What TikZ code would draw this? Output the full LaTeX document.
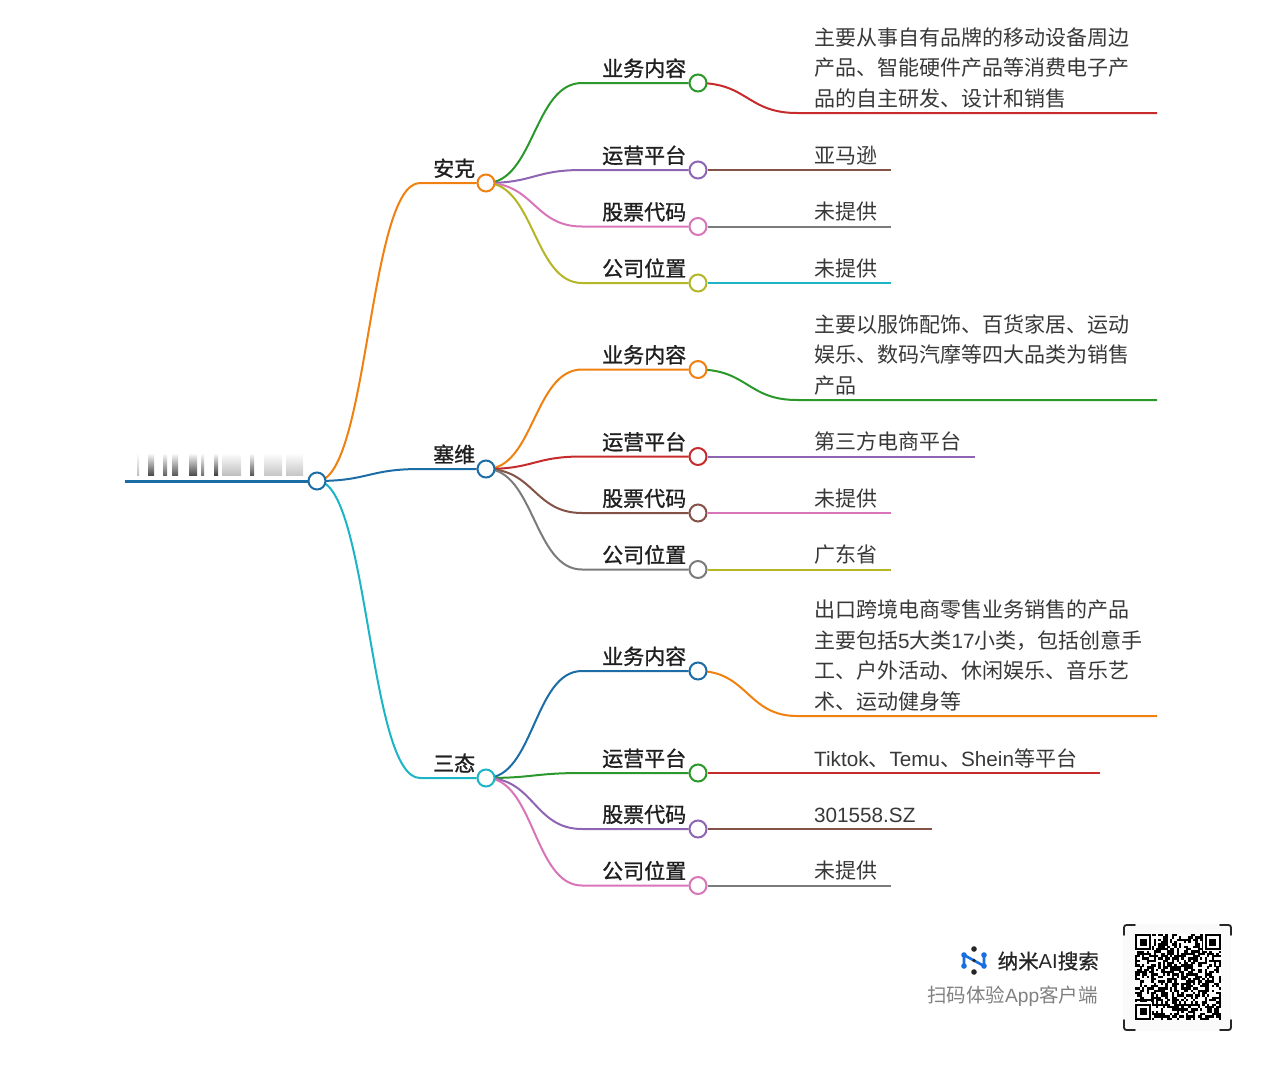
\documentclass[tikz,border=0pt]{standalone}
\usepackage{fontspec}
\setmainfont{Noto Sans CJK SC}
\newfontfamily\lat[Scale=0.985]{Liberation Sans}
\usetikzlibrary{calc,backgrounds}
\definecolor{cb}{HTML}{1C6DA6}\definecolor{co}{HTML}{F0800F}\definecolor{cg}{HTML}{2A982A}
\definecolor{cr}{HTML}{C62A2B}\definecolor{cp}{HTML}{8E64B3}\definecolor{cn}{HTML}{845247}
\definecolor{ck}{HTML}{D875B8}\definecolor{cy}{HTML}{7B7B7B}\definecolor{cl}{HTML}{B5B625}
\definecolor{cc}{HTML}{1CB5C6}\definecolor{logob}{HTML}{1A6FE0}
\tikzset{
  dot/.style={circle,draw=#1,fill=white,line width=2pt,minimum size=17pt,inner sep=0pt},
  edge/.style={line width=2pt,draw=#1},
  rootedge/.style={line width=3pt,draw=#1},
  lab/.style={anchor=south west,inner sep=0pt,align=left,text=black!88,
     font=\fontsize{21}{30.5}\selectfont\addfontfeatures{FakeBold=1.1},
     execute at end node={\vrule depth 6.5pt width 0pt}},
  leaf/.style={anchor=south west,inner sep=0pt,align=left,text=black!78,
     font=\fontsize{21}{30.5}\selectfont,
     execute at end node={\vrule depth 6.5pt width 0pt}},
  bar/.style={top color=white,bottom color=black!#1,draw=none},
  qrmark/.style={line width=1.8pt,draw=black!85,line cap=round,rounded corners=2.5pt},
  logoline/.style={line width=2.6pt,draw=logob}
}
\newcommand\curveedge[4]{\draw[edge=#1] let \p1=(#2.center), \p2=(#3) in
  (\p1) .. controls ({0.5*(\x1+\x2)},\y1) and ({0.5*(\x1+\x2)},\y2) .. (\p2) -- (#4);}
\begin{document}
\begin{tikzpicture}[x=1pt,y=-1pt]
\path[use as bounding box] (0,0) rectangle (1280,1082);
% blurred title
\foreach \a/\b/\d in {137/139/25,148/154/70,163/167/60,172/178/65,189/197/70,201/204/55,214/218/75,222/241/25,250/254/65,264/282/22,286/303/22}
  \shade[bar=\d] (\a,453) rectangle (\b,475);
% hubs
\node[dot=cb] (root) at (317,481) {};
\node[dot=co] (ak) at (486,183) {};
\node[dot=cb] (sw) at (486,469) {};
\node[dot=cc] (st) at (486,778) {};
\node[dot=cg] (a1) at (698,83) {};
\node[dot=cp] (a2) at (698,170) {};
\node[dot=ck] (a3) at (698,226.5) {};
\node[dot=cl] (a4) at (698,283) {};
\node[dot=co] (b1) at (698,369.5) {};
\node[dot=cr] (b2) at (698,456.5) {};
\node[dot=cn] (b3) at (698,513) {};
\node[dot=cy] (b4) at (698,569.5) {};
\node[dot=cb] (c1) at (698,671) {};
\node[dot=cg] (c2) at (698,773) {};
\node[dot=cp] (c3) at (698,829) {};
\node[dot=ck] (c4) at (698,885.5) {};
% free ends and knees
\coordinate (rs) at (125,481);
\coordinate (kak) at (420,183);\coordinate (ksw) at (420,469);\coordinate (kst) at (420,778);
\coordinate (ka1) at (582,83);\coordinate (ka2) at (582,170);\coordinate (ka3) at (582,226.5);\coordinate (ka4) at (582,283);
\coordinate (kb1) at (582,369.5);\coordinate (kb2) at (582,456.5);\coordinate (kb3) at (582,513);\coordinate (kb4) at (582,569.5);
\coordinate (kc1) at (582,671);\coordinate (kc2) at (582,773);\coordinate (kc3) at (582,829);\coordinate (kc4) at (582,885.5);
\coordinate (la1k) at (797,113);\coordinate (la1) at (1157,113);
\coordinate (la2) at (891,170);\coordinate (la3) at (891,226.5);\coordinate (la4) at (891,283);
\coordinate (lb1k) at (797,400);\coordinate (lb1) at (1157,400);
\coordinate (lb2) at (975,456.5);\coordinate (lb3) at (891,513);\coordinate (lb4) at (891,569.5);
\coordinate (lc1k) at (797,716);\coordinate (lc1) at (1157,716);
\coordinate (lc2) at (1100,773);\coordinate (lc3) at (932,829);\coordinate (lc4) at (891,885.5);
\begin{scope}[on background layer]
\draw[rootedge=cb] (rs) -- (root.west);
\curveedge{co}{root}{kak}{ak.west}
\curveedge{cc}{root}{kst}{st.west}
\curveedge{cb}{root}{ksw}{sw.west}
\curveedge{cg}{ak}{ka1}{a1.west}
\curveedge{cp}{ak}{ka2}{a2.west}
\curveedge{ck}{ak}{ka3}{a3.west}
\curveedge{cl}{ak}{ka4}{a4.west}
\curveedge{co}{sw}{kb1}{b1.west}
\curveedge{cr}{sw}{kb2}{b2.west}
\curveedge{cn}{sw}{kb3}{b3.west}
\curveedge{cy}{sw}{kb4}{b4.west}
\curveedge{cb}{st}{kc1}{c1.west}
\curveedge{cg}{st}{kc2}{c2.west}
\curveedge{cp}{st}{kc3}{c3.west}
\curveedge{ck}{st}{kc4}{c4.west}
\curveedge{cr}{a1}{la1k}{la1}
\draw[edge=cn] (a2.east) -- (la2);
\draw[edge=cy] (a3.east) -- (la3);
\draw[edge=cc] (a4.east) -- (la4);
\curveedge{cg}{b1}{lb1k}{lb1}
\draw[edge=cp] (b2.east) -- (lb2);
\draw[edge=ck] (b3.east) -- (lb3);
\draw[edge=cl] (b4.east) -- (lb4);
\curveedge{co}{c1}{lc1k}{lc1}
\draw[edge=cr] (c2.east) -- (lc2);
\draw[edge=cn] (c3.east) -- (lc3);
\draw[edge=cy] (c4.east) -- (lc4);
\end{scope}
% labels
\node[lab] (tak) at (433,183) {安克};
\node[lab] (tsw) at (433,469) {塞维};
\node[lab] (tst) at (433,778) {三态};
\node[lab] (ta1) at (602,83) {业务内容};
\node[lab] (ta2) at (602,170) {运营平台};
\node[lab] (ta3) at (602,226.5) {股票代码};
\node[lab] (ta4) at (602,283) {公司位置};
\node[lab] (tb1) at (602,369.5) {业务内容};
\node[lab] (tb2) at (602,456.5) {运营平台};
\node[lab] (tb3) at (602,513) {股票代码};
\node[lab] (tb4) at (602,569.5) {公司位置};
\node[lab] (tc1) at (602,671) {业务内容};
\node[lab] (tc2) at (602,773) {运营平台};
\node[lab] (tc3) at (602,829) {股票代码};
\node[lab] (tc4) at (602,885.5) {公司位置};
% leaves
\node[leaf] (va1) at (814,113) {主要从事自有品牌的移动设备周边\\产品、智能硬件产品等消费电子产\\品的自主研发、设计和销售};
\node[leaf] (va2) at (814,170) {亚马逊};
\node[leaf] (va3) at (814,226.5) {未提供};
\node[leaf] (va4) at (814,283) {未提供};
\node[leaf] (vb1) at (814,400) {主要以服饰配饰、百货家居、运动\\娱乐、数码汽摩等四大品类为销售\\产品};
\node[leaf] (vb2) at (814,456.5) {第三方电商平台};
\node[leaf] (vb3) at (814,513) {未提供};
\node[leaf] (vb4) at (814,569.5) {广东省};
\node[leaf] (vc1) at (814,716) {出口跨境电商零售业务销售的产品\\主要包括{\lat 5}大类{\lat 17}小类，包括创意手\\工、户外活动、休闲娱乐、音乐艺\\术、运动健身等};
\node[leaf] (vc2) at (814,773) {{\lat Tiktok}、{\lat Temu}、{\lat Shein}等平台};
\node[leaf] (vc3) at (814,829) {{\lat 301558.SZ}};
\node[leaf] (vc4) at (814,885.5) {未提供};
% logo
\coordinate (lgt) at (974,949);\coordinate (lgb) at (974,972);
\coordinate (lglt) at (964,955);\coordinate (lgrt) at (984,955);
\coordinate (lglb) at (964,966);\coordinate (lgrb) at (984,966);
\draw[logoline] (lglb) -- (lglt) -- (lgrb) -- (lgrt);
\fill[logob] (lglt) circle (2.8) (lgrt) circle (2.8) (lglb) circle (2.8) (lgrb) circle (2.8);
\fill[black!85] (lgt) circle (2.8) (lgb) circle (2.8) (974,960.5) circle (1.8);
\node[anchor=east,inner sep=0pt,text=black!85,font=\fontsize{20.5}{24}\selectfont\addfontfeatures{FakeBold=0.8}] (brand) at (1099,961) {纳米{\lat AI}搜索};
\node[anchor=east,inner sep=0pt,text=black!50,font=\fontsize{19.5}{24}\selectfont] (scan) at (1098,996) {扫码体验{\lat App}客户端};
% QR code
\fill[black!2] (1123,924) rectangle (1231,1031);
\draw[qrmark] (1124,935) |- (1135,925);
\draw[qrmark] (1220,925) -| (1231,935);
\draw[qrmark] (1124,1020) |- (1135,1030);
\draw[qrmark] (1220,1030) -| (1231,1020);
\begin{scope}[shift={(1135,934)},x=2.32pt,y=-2.32pt]
\fill[white] (0,0) rectangle (37,37);
\pgfmathsetseed{4217}
\foreach \i in {0,...,36}{\foreach \j in {0,...,36}{
  \pgfmathrandominteger{\qrv}{0}{99}
  \ifnum\qrv<56 \fill[black] (\i,\j) rectangle +(1.02,1.02);\fi
}}
\foreach \ox/\oy in {0/0,30/0,0/30}{
  \fill[white] (\ox,\oy) ++(-0.5,-0.5) rectangle +(8,8);
  \fill[black] (\ox,\oy) rectangle +(7,7);
  \fill[white] (\ox+1,\oy+1) rectangle +(5,5);
  \fill[black] (\ox+2,\oy+2) rectangle +(3,3);
}
\end{scope}
\end{tikzpicture}
\end{document}
